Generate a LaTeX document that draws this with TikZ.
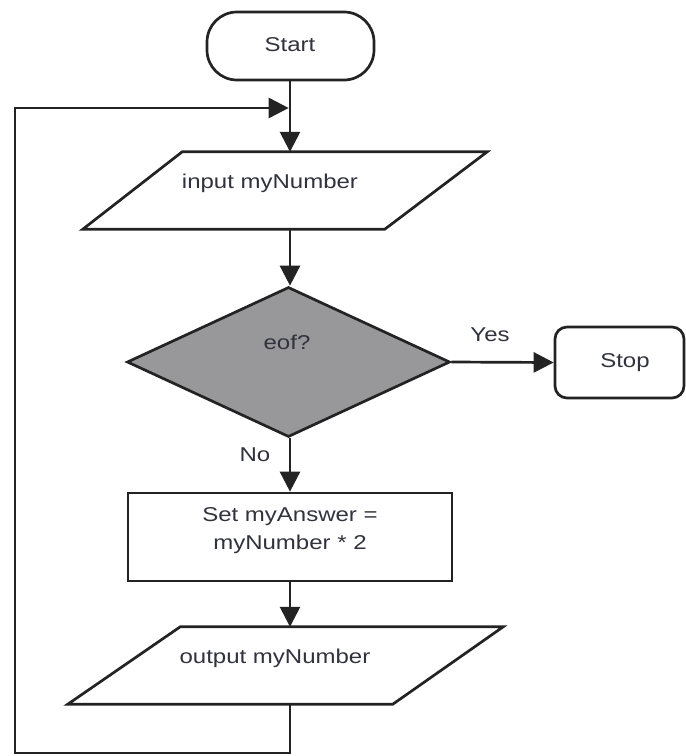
\documentclass[tikz,border=0pt]{standalone}
\usepackage{fontspec}
\setmainfont{Liberation Sans}[FakeStretch=1.2]
\usetikzlibrary{shapes.geometric,arrows.meta,calc}
\definecolor{ink}{RGB}{35,35,35}
\definecolor{txt}{RGB}{50,50,62}
\definecolor{decfill}{RGB}{152,152,154}
\begin{document}
\begin{tikzpicture}[x=1pt,y=1pt,
  every node/.style={font=\fontsize{20}{28}\selectfont, text=txt},
  shapebox/.style={draw=ink, line width=2.7pt, inner sep=0pt},
  terminal/.style={shapebox, rectangle, rounded corners=30pt},
  ioframe/.style={rectangle, inner sep=0pt},
  outline/.style={draw=ink, line width=2.7pt, line join=miter},
  flow/.style={draw=ink, line width=2.7pt, -{Triangle[length=20pt,width=20pt]}},
  link/.style={draw=ink, line width=2.7pt},
  lbl/.style={inner sep=0pt}
]
\useasboundingbox[fill=white] (0,0) rectangle (686,-756);

% terminal: start
\node[terminal, minimum width=167, minimum height=68] (start) at (290.5,-46) {};
\node[lbl] (starttxt) at (290,-45) {Start};

% input parallelogram (frame node gives its extent)
\node[ioframe, minimum width=404, minimum height=77] (in) at (285,-190.5) {};
\draw[outline] (in.south west) -- ++(302,0) -- (in.north east) -- ++(-305,0) -- cycle;
\node[lbl] (intxt) at (270,-183) {input myNumber};

% decision
\node[shapebox, diamond, fill=decfill, minimum width=323, minimum height=150,
      aspect=2.15] (eof) at (288.5,-362) {};
\node[lbl] (eoftxt) at (287,-342) {eof?};

% terminal: stop
\node[shapebox, rectangle, rounded corners=12pt, minimum width=129,
      minimum height=71] (stop) at (619.5,-362.5) {};
\node[lbl] (stoptxt) at (625,-363) {Stop};

% process
\node[shapebox, rectangle, minimum width=324, minimum height=88] (calc) at (290,-537) {};
\node[lbl, align=center] (calctxt) at (290,-531) {Set myAnswer =\\myNumber * 2};

% output parallelogram
\node[ioframe, minimum width=435, minimum height=77] (out) at (285.5,-665.5) {};
\draw[outline] (out.south west) -- ++(325,0) -- (out.north east) -- ++(-323,0) -- cycle;
\node[lbl] (outtxt) at (275,-658) {output myNumber};

% connectors
\coordinate (join) at (290,-108);
\coordinate (loopa) at (290,-753);
\coordinate (loopb) at (15,-753);
\coordinate (loopc) at (15,-108);

\draw[link] (start.south -| join) -- (join);
\draw[flow] (join) -- (join |- in.north);
\draw[flow] (join |- in.south) -- (join |- eof.north);
\draw[flow] (eof.east) -- (stop.west);
\draw[flow] (join |- eof.south) -- (join |- calc.north);
\draw[flow] (join |- calc.south) -- (join |- out.north);
\draw[link, -{Triangle[length=20pt,width=20pt]}] (join |- out.south) -- (loopa) -- (loopb) -- (loopc) -- ([xshift=-1.3pt]join);

% branch labels
\node[lbl] (yes) at (490,-335) {Yes};
\node[lbl] (no) at (255,-455) {No};
\end{tikzpicture}
\end{document}
